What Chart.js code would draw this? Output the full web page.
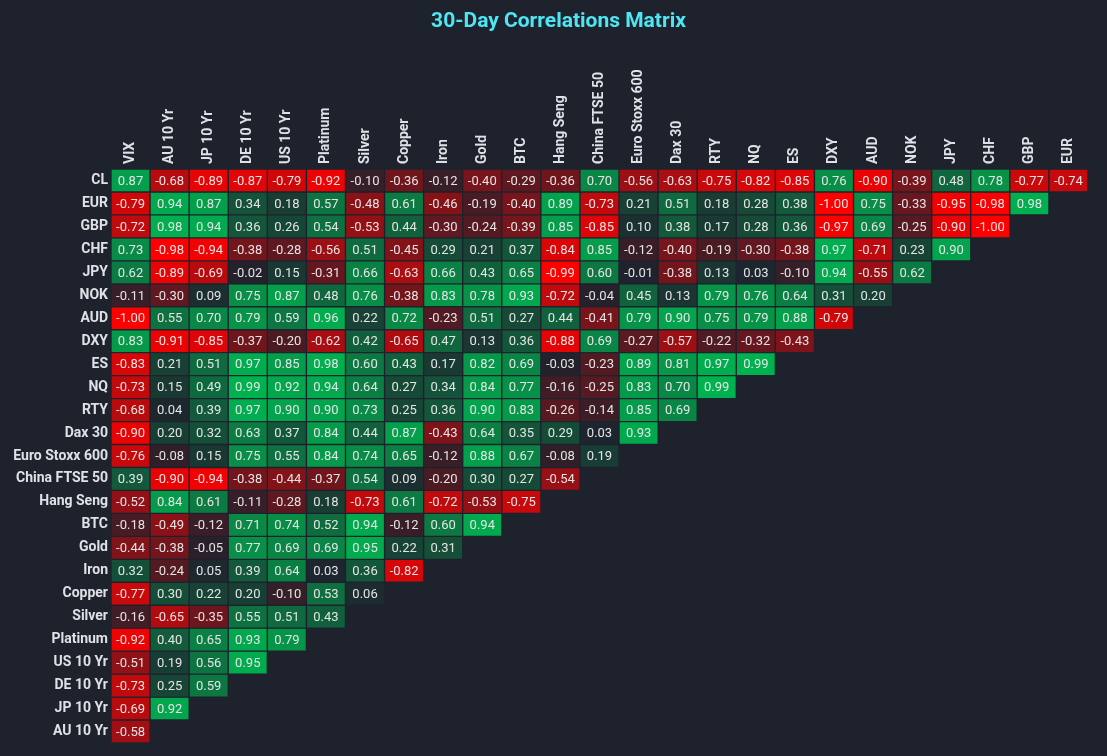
<!DOCTYPE html>
<html lang="en">
<head>
  <meta charset="UTF-8">
  <title>30-Day Correlations Matrix</title>
  <script src="https://cdn.jsdelivr.net/npm/chart.js"></script>
  <style>
    html, body {
      margin: 0;
      padding: 0;
      background: #1e222d;
    }
    #contenedor {
      width: 1107px;
      height: 756px;
    }
  </style>
</head>
<body>

  <div id="contenedor"><canvas id="matriz"></canvas></div>

  <script>
    // Etiquetas de filas (arriba a abajo) y columnas (izquierda a derecha)
    const filas = ['CL', 'EUR', 'GBP', 'CHF', 'JPY', 'NOK', 'AUD', 'DXY', 'ES', 'NQ', 'RTY', 'Dax 30',
      'Euro Stoxx 600', 'China FTSE 50', 'Hang Seng', 'BTC', 'Gold', 'Iron', 'Copper', 'Silver',
      'Platinum', 'US 10 Yr', 'DE 10 Yr', 'JP 10 Yr', 'AU 10 Yr'];
    const columnas = ['VIX', 'AU 10 Yr', 'JP 10 Yr', 'DE 10 Yr', 'US 10 Yr', 'Platinum', 'Silver', 'Copper',
      'Iron', 'Gold', 'BTC', 'Hang Seng', 'China FTSE 50', 'Euro Stoxx 600', 'Dax 30', 'RTY', 'NQ', 'ES',
      'DXY', 'AUD', 'NOK', 'JPY', 'CHF', 'GBP', 'EUR'];

    // Correlaciones por fila (solo el triangulo visible)
    const cl = [0.87, -0.68, -0.89, -0.87, -0.79, -0.92, -0.10, -0.36, -0.12, -0.40, -0.29, -0.36, 0.70, -0.56, -0.63, -0.75, -0.82, -0.85, 0.76, -0.90, -0.39, 0.48, 0.78, -0.77, -0.74];
    const eur = [-0.79, 0.94, 0.87, 0.34, 0.18, 0.57, -0.48, 0.61, -0.46, -0.19, -0.40, 0.89, -0.73, 0.21, 0.51, 0.18, 0.28, 0.38, -1.00, 0.75, -0.33, -0.95, -0.98, 0.98];
    const gbp = [-0.72, 0.98, 0.94, 0.36, 0.26, 0.54, -0.53, 0.44, -0.30, -0.24, -0.39, 0.85, -0.85, 0.10, 0.38, 0.17, 0.28, 0.36, -0.97, 0.69, -0.25, -0.90, -1.00];
    const chf = [0.73, -0.98, -0.94, -0.38, -0.28, -0.56, 0.51, -0.45, 0.29, 0.21, 0.37, -0.84, 0.85, -0.12, -0.40, -0.19, -0.30, -0.38, 0.97, -0.71, 0.23, 0.90];
    const jpy = [0.62, -0.89, -0.69, -0.02, 0.15, -0.31, 0.66, -0.63, 0.66, 0.43, 0.65, -0.99, 0.60, -0.01, -0.38, 0.13, 0.03, -0.10, 0.94, -0.55, 0.62];
    const nok = [-0.11, -0.30, 0.09, 0.75, 0.87, 0.48, 0.76, -0.38, 0.83, 0.78, 0.93, -0.72, -0.04, 0.45, 0.13, 0.79, 0.76, 0.64, 0.31, 0.20];
    const aud = [-1.00, 0.55, 0.70, 0.79, 0.59, 0.96, 0.22, 0.72, -0.23, 0.51, 0.27, 0.44, -0.41, 0.79, 0.90, 0.75, 0.79, 0.88, -0.79];
    const dxy = [0.83, -0.91, -0.85, -0.37, -0.20, -0.62, 0.42, -0.65, 0.47, 0.13, 0.36, -0.88, 0.69, -0.27, -0.57, -0.22, -0.32, -0.43];
    const es = [-0.83, 0.21, 0.51, 0.97, 0.85, 0.98, 0.60, 0.43, 0.17, 0.82, 0.69, -0.03, -0.23, 0.89, 0.81, 0.97, 0.99];
    const nq = [-0.73, 0.15, 0.49, 0.99, 0.92, 0.94, 0.64, 0.27, 0.34, 0.84, 0.77, -0.16, -0.25, 0.83, 0.70, 0.99];
    const rty = [-0.68, 0.04, 0.39, 0.97, 0.90, 0.90, 0.73, 0.25, 0.36, 0.90, 0.83, -0.26, -0.14, 0.85, 0.69];
    const dax30 = [-0.90, 0.20, 0.32, 0.63, 0.37, 0.84, 0.44, 0.87, -0.43, 0.64, 0.35, 0.29, 0.03, 0.93];
    const stoxx600 = [-0.76, -0.08, 0.15, 0.75, 0.55, 0.84, 0.74, 0.65, -0.12, 0.88, 0.67, -0.08, 0.19];
    const chinaFtse = [0.39, -0.90, -0.94, -0.38, -0.44, -0.37, 0.54, 0.09, -0.20, 0.30, 0.27, -0.54];
    const hangSeng = [-0.52, 0.84, 0.61, -0.11, -0.28, 0.18, -0.73, 0.61, -0.72, -0.53, -0.75];
    const btc = [-0.18, -0.49, -0.12, 0.71, 0.74, 0.52, 0.94, -0.12, 0.60, 0.94];
    const gold = [-0.44, -0.38, -0.05, 0.77, 0.69, 0.69, 0.95, 0.22, 0.31];
    const iron = [0.32, -0.24, 0.05, 0.39, 0.64, 0.03, 0.36, -0.82];
    const copper = [-0.77, 0.30, 0.22, 0.20, -0.10, 0.53, 0.06];
    const silver = [-0.16, -0.65, -0.35, 0.55, 0.51, 0.43];
    const platinum = [-0.92, 0.40, 0.65, 0.93, 0.79];
    const us10 = [-0.51, 0.19, 0.56, 0.95];
    const de10 = [-0.73, 0.25, 0.59];
    const jp10 = [-0.69, 0.92];
    const au10 = [-0.58];

    const matriz = [cl, eur, gbp, chf, jpy, nok, aud, dxy, es, nq, rty, dax30, stoxx600, chinaFtse,
      hangSeng, btc, gold, iron, copper, silver, platinum, us10, de10, jp10, au10];

    const fondo = '#1e222d';
    const titulo = '30-Day Correlations Matrix';

    // Escala de color: rojo (-1) -> fondo (0) -> verde (+1)
    function colorCelda(v) {
      const base = [30, 34, 45];
      const fin = v < 0 ? [255, 0, 0] : [0, 178, 80];
      const t = Math.min(Math.abs(v), 1);
      const c = base.map((b, k) => Math.round(b + (fin[k] - b) * t));
      return `rgb(${c[0]}, ${c[1]}, ${c[2]})`;
    }

    const datasets = matriz.map((fila, i) => ({
      label: filas[i],
      data: fila.map(() => [i - 0.5, i + 0.5]),
      backgroundColor: fila.map(colorCelda),
      borderColor: fondo,
      borderWidth: 1,
      borderSkipped: false,
      grouped: false,
      barPercentage: 1,
      categoryPercentage: 1
    }));

    // Texto con el valor dentro de cada celda
    const textoCeldas = {
      id: 'textoCeldas',
      afterDatasetsDraw(chart) {
        const ctx = chart.ctx;
        ctx.save();
        ctx.font = '13px Roboto';
        ctx.fillStyle = '#e4e4e4';
        ctx.textAlign = 'center';
        ctx.textBaseline = 'middle';
        chart.data.datasets.forEach((ds, i) => {
          chart.getDatasetMeta(i).data.forEach((barra, j) => {
            const { x, y, base } = barra.getProps(['x', 'y', 'base'], true);
            ctx.fillText(matriz[i][j].toFixed(2), x, (y + base) / 2 + 1);
          });
        });
        ctx.restore();
      }
    };

    // Titulo dibujado a mano para centrarlo sobre el lienzo
    const tituloPlugin = {
      id: 'tituloPlugin',
      afterDraw(chart) {
        const ctx = chart.ctx;
        ctx.save();
        ctx.font = "bold 21px Roboto";
        ctx.fillStyle = '#4de6f2';
        ctx.textAlign = 'center';
        ctx.textBaseline = 'middle';
        ctx.fillText(titulo, chart.width / 2 + 5, 22);
        ctx.restore();
      }
    };

    const tamEje = 14;
    const fuenteEje = { family: 'Roboto', size: tamEje, weight: 'bold' };

    new Chart(document.getElementById('matriz'), {
      type: 'bar',
      data: { labels: columnas, datasets },
      options: {
        responsive: true,
        maintainAspectRatio: false,
        animation: false,
        layout: { padding: { left: 0, right: 19, top: 0, bottom: 13 } },
        scales: {
          x: {
            type: 'category',
            position: 'top',
            grid: { display: false, drawTicks: false },
            border: { display: false },
            ticks: {
              color: '#dfe1e6',
              font: fuenteEje,
              minRotation: 90,
              maxRotation: 90,
              padding: 5,
              labelOffset: tamEje * 1.2
            },
            afterFit: s => { s.height = 169; }
          },
          y: {
            type: 'linear',
            reverse: true,
            min: -0.5,
            max: 24.5,
            grid: { display: false, drawTicks: false },
            border: { display: false },
            afterBuildTicks: s => { s.ticks = filas.map((f, i) => ({ value: i })); },
            ticks: {
              color: '#dfe1e6',
              font: fuenteEje,
              padding: 3,
              callback: v => filas[v]
            },
            afterFit: s => { s.width = 111; }
          }
        },
        plugins: {
          legend: { display: false },
          title: { display: false },
          tooltip: {
            callbacks: {
              title: items => filas[items[0].datasetIndex] + ' / ' + columnas[items[0].dataIndex],
              label: item => matriz[item.datasetIndex][item.dataIndex].toFixed(2)
            }
          }
        }
      },
      plugins: [textoCeldas, tituloPlugin]
    });
  </script>

</body>
</html>
